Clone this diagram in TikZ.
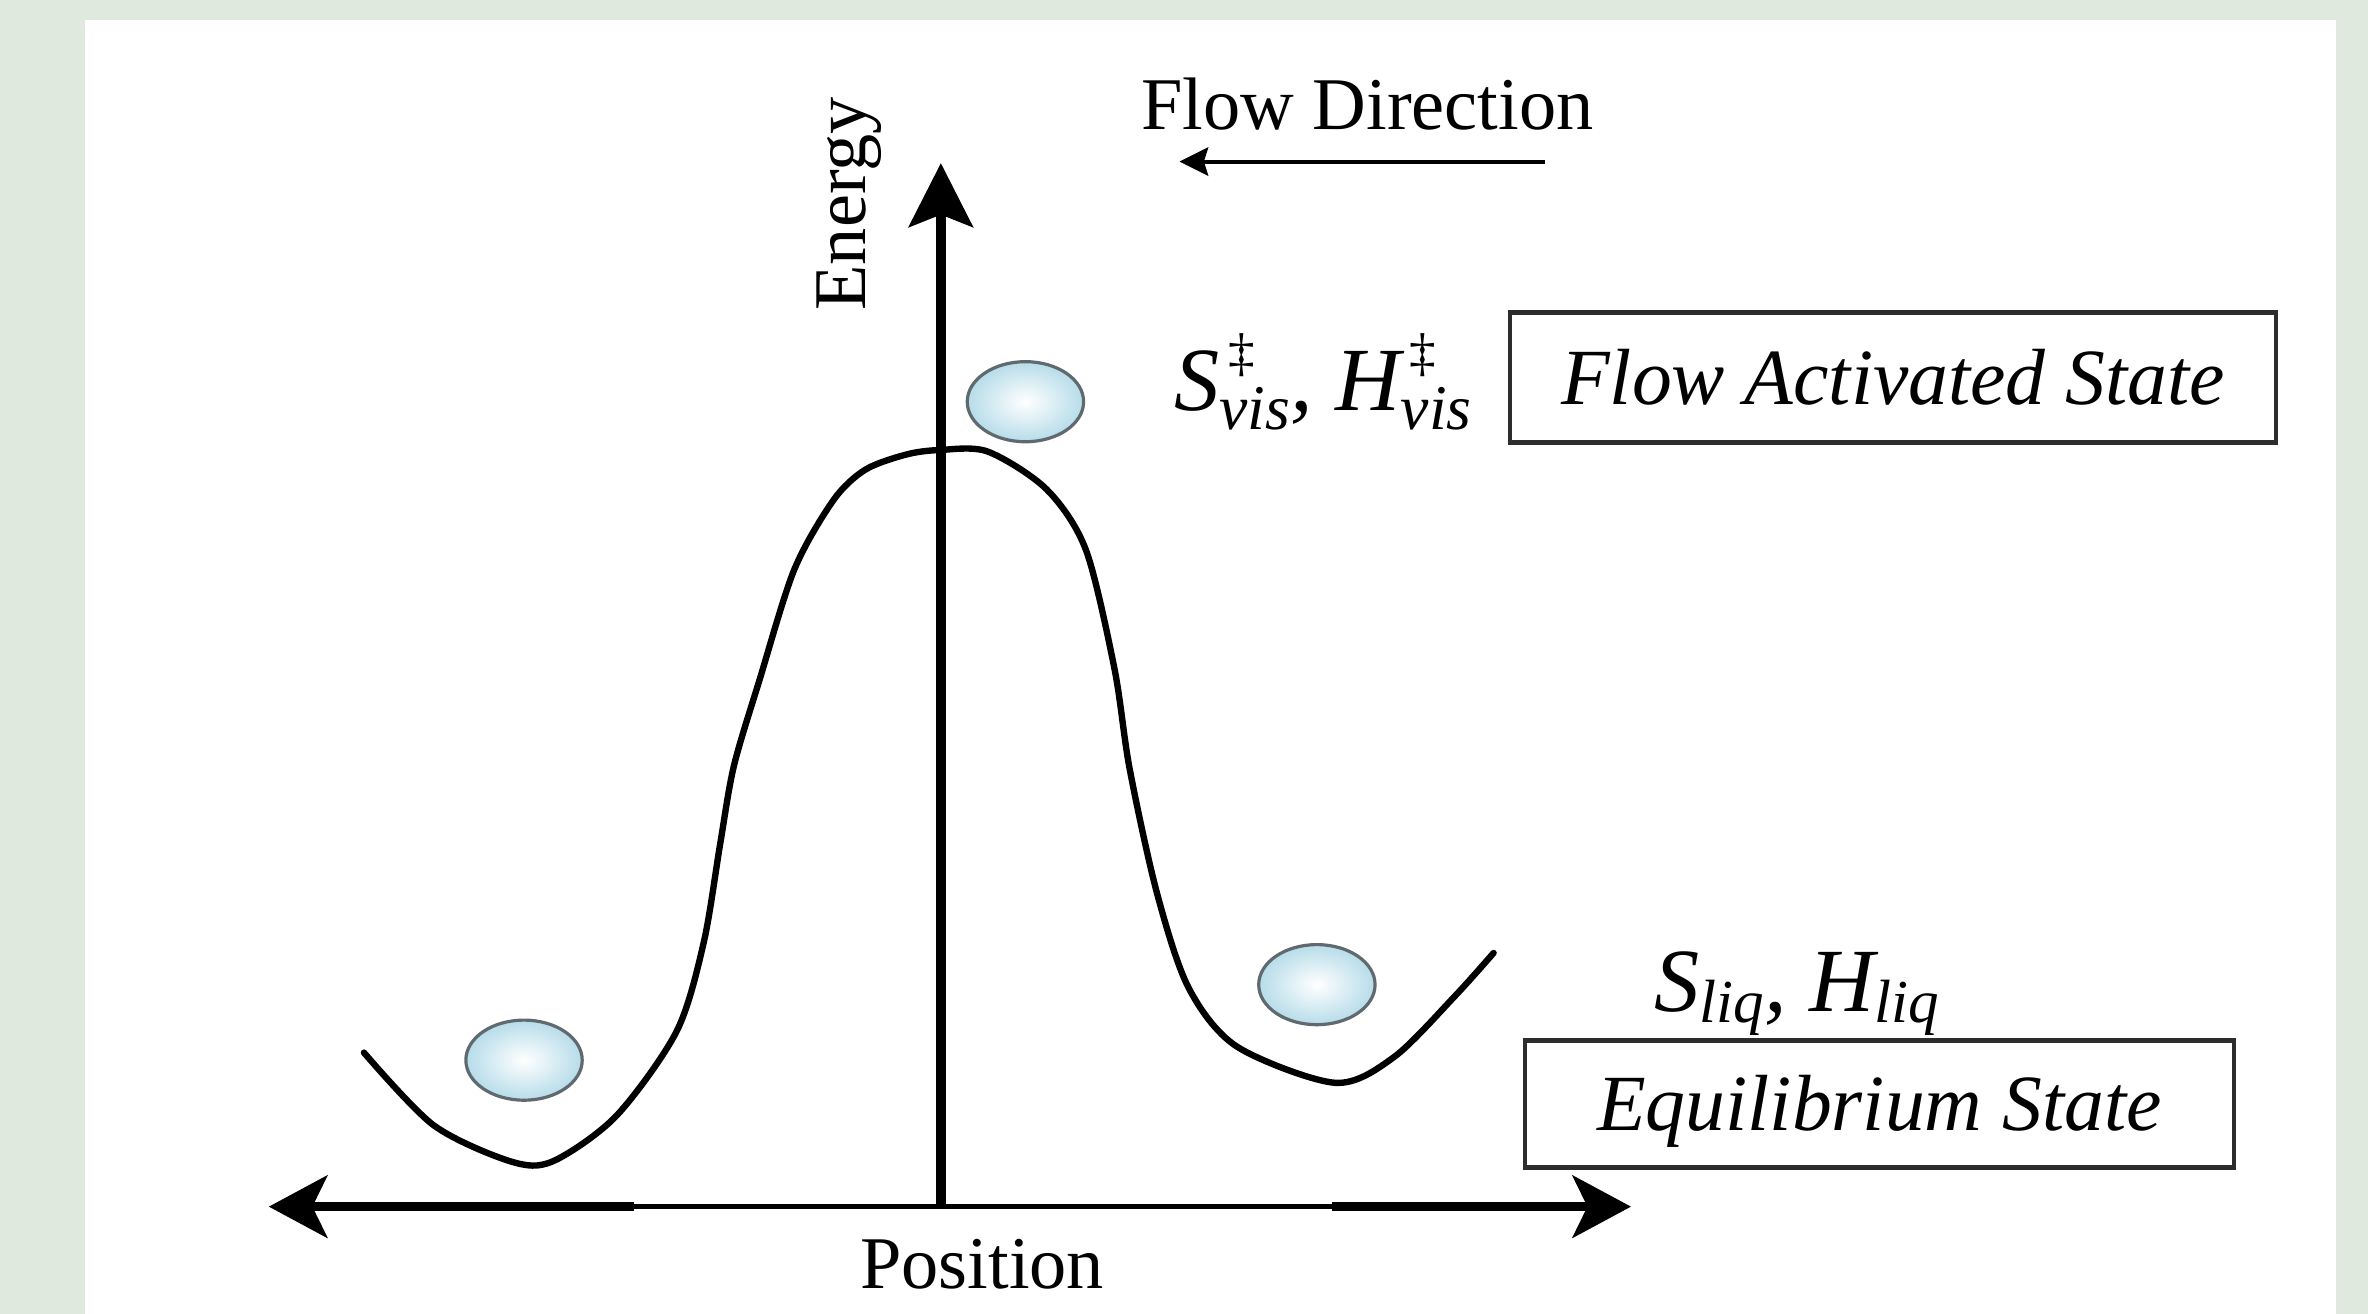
\documentclass[tikz,border=0pt]{standalone}
\usepackage{fontspec}
\setmainfont{Liberation Serif}
\usetikzlibrary{arrows.meta,shapes.geometric}
\definecolor{bgcol}{RGB}{224,233,222}
\definecolor{ballblue}{RGB}{182,220,233}
\definecolor{ballrim}{RGB}{95,105,110}
\definecolor{boxrim}{RGB}{45,45,45}
\newcommand{\actsym}[1]{#1\rlap{\raisebox{7.5pt}{\fontsize{10}{10}\selectfont\upshape\,‡}}\raisebox{-3.6pt}{\fontsize{12}{12}\selectfont vis}}
\newcommand{\liqsym}[1]{#1\raisebox{-2pt}{\fontsize{11.5}{11.5}\selectfont liq}}
\begin{document}
\begin{tikzpicture}[x=0.01cm,y=-0.01cm,
  lbl/.style={inner sep=0pt, font=\fontsize{14}{14}\selectfont},
  symlbl/.style={inner sep=0pt, font=\fontsize{17}{17}\selectfont\itshape},
  statebox/.style={draw=boxrim, line width=0.8pt, inner sep=0pt, rectangle,
    font=\fontsize{15}{15}\selectfont\itshape, text height=10pt, text depth=0pt},
  ball/.style={ellipse, draw=ballrim, line width=0.6pt, inner sep=0pt,
    minimum width=0.77cm, minimum height=0.53cm, inner color=white, outer color=ballblue},
  vaxis/.style={line width=1.9pt, -{Stealth[length=12pt,width=12pt,inset=2.3pt]}},
  haxisthick/.style={line width=1.7pt},
  haxisthin/.style={line width=1.05pt},
  htip/.tip={Stealth[length=11pt,width=11.7pt,inset=2.8pt]},
  flowarrow/.style={line width=0.75pt, -{Stealth[length=5.4pt,width=5.3pt,inset=0.8pt]}},
  barrier/.style={line width=1.2pt, line join=round, line cap=round}
]
\useasboundingbox (0,0) rectangle (1568,870);
\fill[bgcol] (0,0) rectangle (1568,870);
\fill[white] (56,13) rectangle (1547,870);

% axes
\coordinate (O) at (623,800);
\coordinate (ytop) at (623,108);
\coordinate (xl) at (178,799);
\coordinate (xlt) at (420,799);
\coordinate (xrt) at (882,799);
\coordinate (xr) at (1080,799);
\draw[haxisthin] (xlt) -- (xrt);
\draw[haxisthick, htip-] (xl) -- (xlt);
\draw[haxisthick, -htip] (xrt) -- (xr);
\draw[vaxis] (O) -- (ytop);

% barrier curve
\draw[barrier] plot[smooth, tension=0.5] coordinates {
 (241,697) (287,745) (338,769) (366,769) (408,739) (448,683)
 (466,624) (477,558) (486,507) (503,450) (526,377) (552,331) (573,311)
 (600,301) (622,298) (654,299) (693,324) (719,364) (738,443) (748,509)
 (766,591) (787,654) (819,693) (884,717) (923,700) (963,660) (989,631)};

% balls
\node[ball] (btop) at (679,266) {};
\node[ball] (bleft) at (347,702) {};
\node[ball] (bright) at (872,652) {};

% labels
\node[lbl, rotate=90, anchor=base] (energy) at (573,135) {Energy};
\node[lbl, anchor=base west] (flowdir) at (755,86) {Flow Direction};
\node[lbl, anchor=base west] (position) at (569,853) {Position};
\coordinate (fa1) at (1023,107);
\coordinate (fa2) at (781,107);
\draw[flowarrow] (fa1) -- (fa2);

\node[symlbl, anchor=base west] (actlbl) at (777,271.5) {\actsym{S}, \actsym{H}};
\node[symlbl, anchor=base west] (liqlbl) at (1095,670) {\liqsym{S}, \liqsym{H}};

\node[statebox, minimum width=5.07cm, minimum height=0.86cm] (fas) at (1253.5,250) {Flow Activated State};
\node[statebox, minimum width=4.69cm, minimum height=0.84cm] (eqs) at (1244.5,731) {Equilibrium State};
\end{tikzpicture}
\end{document}
